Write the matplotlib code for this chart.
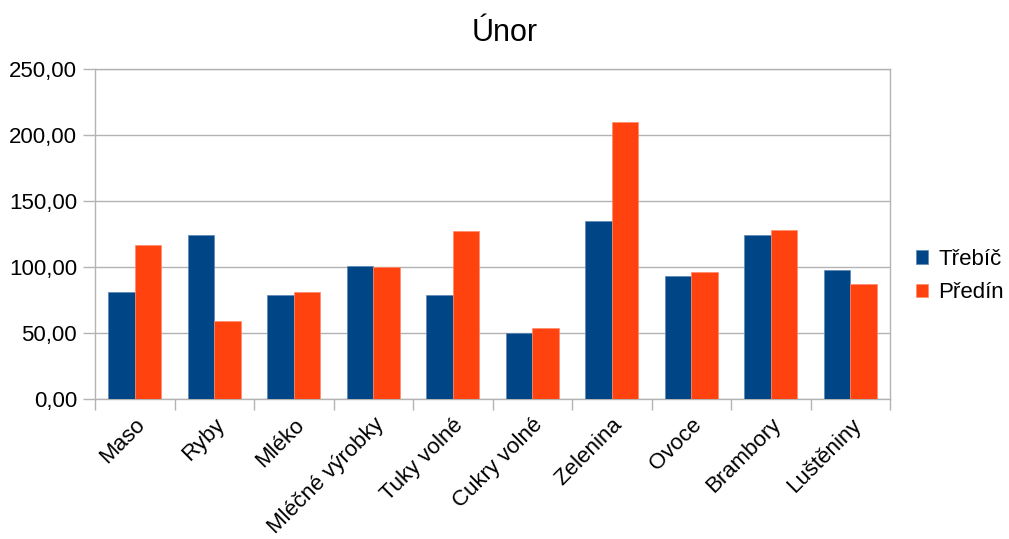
import matplotlib
matplotlib.use("Agg")
import matplotlib.pyplot as plt
import numpy as np

plt.rcParams['font.family'] = ['Liberation Sans', 'DejaVu Sans']

categories = ["Maso", "Ryby", "Mléko", "Mléčné výrobky", "Tuky volné",
              "Cukry volné", "Zelenina", "Ovoce", "Brambory", "Luštěniny"]
trebic = [81, 124, 79, 101, 79, 50, 135, 93, 124, 98]
predin = [117, 59, 81, 100, 127, 54, 210, 96, 128, 87]
series_names = ["Třebíč", "Předín"]
y_ticks = [0, 50, 100, 150, 200, 250]
y_tick_labels = ["0,00", "50,00", "100,00", "150,00", "200,00", "250,00"]

BLUE = "#004586"
ORANGE = "#ff420e"
GRID = "#b3b3b3"

fig = plt.figure(figsize=(10.09, 5.39), dpi=100)
ax = fig.add_axes([95 / 1009, 1 - 399 / 539, 795 / 1009, 330 / 539])

x = np.arange(len(categories))
w = 1 / 3
ax.bar(x - w / 2, trebic, width=w, color=BLUE, label=series_names[0], zorder=3,
       edgecolor="#5a86b5", linewidth=0.5)
ax.bar(x + w / 2, predin, width=w, color=ORANGE, label=series_names[1], zorder=3,
       edgecolor="#ff8a6a", linewidth=0.5)

ax.set_xlim(-0.5, len(categories) - 0.5)
ax.set_ylim(0, 250)
ax.set_yticks(y_ticks)
ax.set_yticklabels(y_tick_labels, fontsize=16)
ax.yaxis.grid(True, color=GRID, linewidth=1, zorder=0)
ax.set_axisbelow(True)

# category labels at bar-group centres, tick marks on group boundaries
ax.set_xticks(x)
ax.set_xticklabels(categories, rotation=45, ha="right", rotation_mode="anchor",
                   fontsize=16)
ax.tick_params(axis="x", length=0, pad=11)
ax.set_xticks(np.arange(len(categories) + 1) - 0.5, minor=True)
ax.tick_params(axis="x", which="minor", length=8, color=GRID, width=1)
ax.tick_params(axis="y", length=9, color=GRID, width=1, pad=4)

for s in ax.spines.values():
    s.set_color(GRID)
    s.set_linewidth(1)

fig.text(0.5, 1 - 33 / 539, "Únor", ha="center", va="center", fontsize=22)

leg = fig.legend(loc="center left", bbox_to_anchor=(916 / 1009, 1 - 276 / 539),
                 frameon=False, fontsize=16, handlelength=0.55, handleheight=0.55,
                 handletextpad=0.45, labelspacing=0.55, borderaxespad=0,
                 borderpad=0)

fig.savefig("out.png", dpi=100)
